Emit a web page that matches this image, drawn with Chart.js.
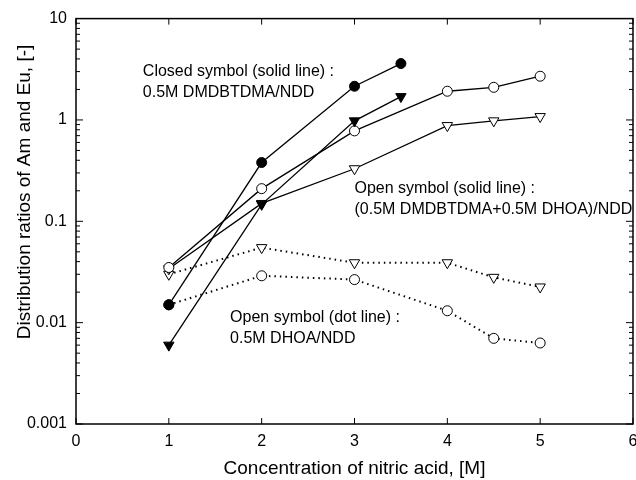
<!DOCTYPE html>
<html>
<head>
<meta charset="utf-8">
<script src="https://cdn.jsdelivr.net/npm/chart.js@4.4.1/dist/chart.umd.min.js"></script>
<style>
  html, body { margin: 0; padding: 0; background: #fff; }
  #wrap { width: 636px; height: 480px; }
</style>
</head>
<body>
<div id="wrap"><canvas id="distChart" width="636" height="480"></canvas></div>
<script>
// nitric acid concentration, M
const xShort = [1, 2, 3, 3.5];
const xLong = [1, 2, 3, 4, 4.5, 5];

// distribution ratios
const closedCircle = [0.015, 0.38, 2.15, 3.6];
const closedTriangle = [0.006, 0.147, 0.98, 1.7];
const openCircleSolid = [0.035, 0.21, 0.78, 1.92, 2.1, 2.7];
const openTriangleSolid = [0.034, 0.15, 0.33, 0.88, 0.98, 1.08];
const openCircleDot = [0.015, 0.029, 0.0266, 0.0131, 0.007, 0.0063];
const openTriangleDot = [0.03, 0.055, 0.039, 0.039, 0.028, 0.0225];

const xTicks = [0, 1, 2, 3, 4, 5, 6];
const xTickLabels = ["0", "1", "2", "3", "4", "5", "6"];
const yTicks = [0.001, 0.01, 0.1, 1, 10];
const yTickLabels = ["0.001", "0.01", "0.1", "1", "10"];

const notes = [
  { x: 0.72, y: 3.0, lines: ["Closed symbol (solid line) :", "0.5M DMDBTDMA/NDD"] },
  { x: 3.0, y: 0.21, lines: ["Open symbol (solid line) :", "(0.5M DMDBTDMA+0.5M DHOA)/NDD"] },
  { x: 1.66, y: 0.0112, lines: ["Open symbol (dot line) :", "0.5M DHOA/NDD"] }
];

const FONT = '"Liberation Sans", Arial, sans-serif';

function pts(xs, ys) {
  return xs.map((x, i) => ({ x: x, y: ys[i] }));
}

function series(xs, ys, style, filled, dotted) {
  return {
    data: pts(xs, ys),
    borderColor: '#000',
    borderWidth: dotted ? 2 : 1.3,
    borderDash: dotted ? [1.5, 4] : [],
    pointStyle: style,
    pointRotation: style === 'triangle' ? 180 : 0,
    pointRadius: style === 'triangle' ? 6 : 5,
    pointBorderWidth: 1,
    pointBorderColor: '#000',
    pointBackgroundColor: filled ? '#000' : '#fff',
    showLine: true,
    fill: false,
    tension: 0
  };
}

const framePlugin = {
  id: 'frame',
  afterDatasetsDraw(chart) {
    const { ctx, chartArea: a, scales: { x, y } } = chart;
    ctx.save();
    ctx.strokeStyle = '#000';
    ctx.lineWidth = 1.5;
    ctx.strokeRect(a.left, a.top, a.right - a.left, a.bottom - a.top);

    ctx.lineWidth = 1;
    ctx.beginPath();
    xTicks.forEach(v => {
      const px = x.getPixelForValue(v);
      ctx.moveTo(px, a.bottom); ctx.lineTo(px, a.bottom - 6);
      ctx.moveTo(px, a.top); ctx.lineTo(px, a.top + 6);
    });
    for (let d = -3; d < 1; d++) {
      for (let m = 1; m < 10; m++) {
        const py = y.getPixelForValue(m * Math.pow(10, d));
        const len = m === 1 ? 7 : 4;
        ctx.moveTo(a.left, py); ctx.lineTo(a.left + len, py);
        ctx.moveTo(a.right, py); ctx.lineTo(a.right - len, py);
      }
    }
    ctx.stroke();

    ctx.fillStyle = '#000';
    ctx.font = '16px ' + FONT;
    ctx.textBaseline = 'middle';
    ctx.textAlign = 'center';
    xTicks.forEach((v, i) => ctx.fillText(xTickLabels[i], x.getPixelForValue(v), a.bottom + 18));

    ctx.textAlign = 'left';
    notes.forEach(n => {
      const px = x.getPixelForValue(n.x);
      const py = y.getPixelForValue(n.y);
      n.lines.forEach((t, i) => ctx.fillText(t, px, py + i * 21));
    });

    ctx.translate(25, 192);
    ctx.rotate(-Math.PI / 2);
    ctx.textAlign = 'center';
    ctx.font = '19px ' + FONT;
    ctx.fillText('Distribution ratios of Am and Eu, [-]', 0, 0);
    ctx.restore();
  }
};

new Chart(document.getElementById('distChart'), {
  type: 'scatter',
  data: {
    datasets: [
      series(xShort, closedCircle, 'circle', true, false),
      series(xShort, closedTriangle, 'triangle', true, false),
      series(xLong, openCircleSolid, 'circle', false, false),
      series(xLong, openTriangleSolid, 'triangle', false, false),
      series(xLong, openCircleDot, 'circle', false, true),
      series(xLong, openTriangleDot, 'triangle', false, true)
    ]
  },
  options: {
    responsive: false,
    animation: false,
    devicePixelRatio: 1,
    layout: { autoPadding: false, padding: { top: 15, right: 3, left: 0, bottom: 0 } },
    plugins: { legend: { display: false }, tooltip: { enabled: false } },
    scales: {
      x: {
        type: 'linear',
        min: 0,
        max: 6,
        grid: { display: false, drawTicks: false },
        border: { display: false },
        afterBuildTicks: s => { s.ticks = xTicks.map(v => ({ value: v })); },
        afterFit: s => { s.height = 56; },
        ticks: { display: false },
        title: {
          display: true,
          text: 'Concentration of nitric acid, [M]',
          color: '#000',
          padding: { top: 0, bottom: 0 },
          font: { family: FONT, size: 19 }
        }
      },
      y: {
        type: 'logarithmic',
        min: 0.001,
        max: 10,
        grid: { display: false, drawTicks: false },
        border: { display: false },
        afterBuildTicks: s => { s.ticks = yTicks.map(v => ({ value: v })); },
        afterFit: s => { s.width = 76; },
        ticks: {
          color: '#000',
          padding: 9,
          font: { family: FONT, size: 16 },
          callback: v => {
            const i = yTicks.indexOf(v);
            return i >= 0 ? yTickLabels[i] : '';
          }
        }
      }
    }
  },
  plugins: [framePlugin]
});
</script>
</body>
</html>
